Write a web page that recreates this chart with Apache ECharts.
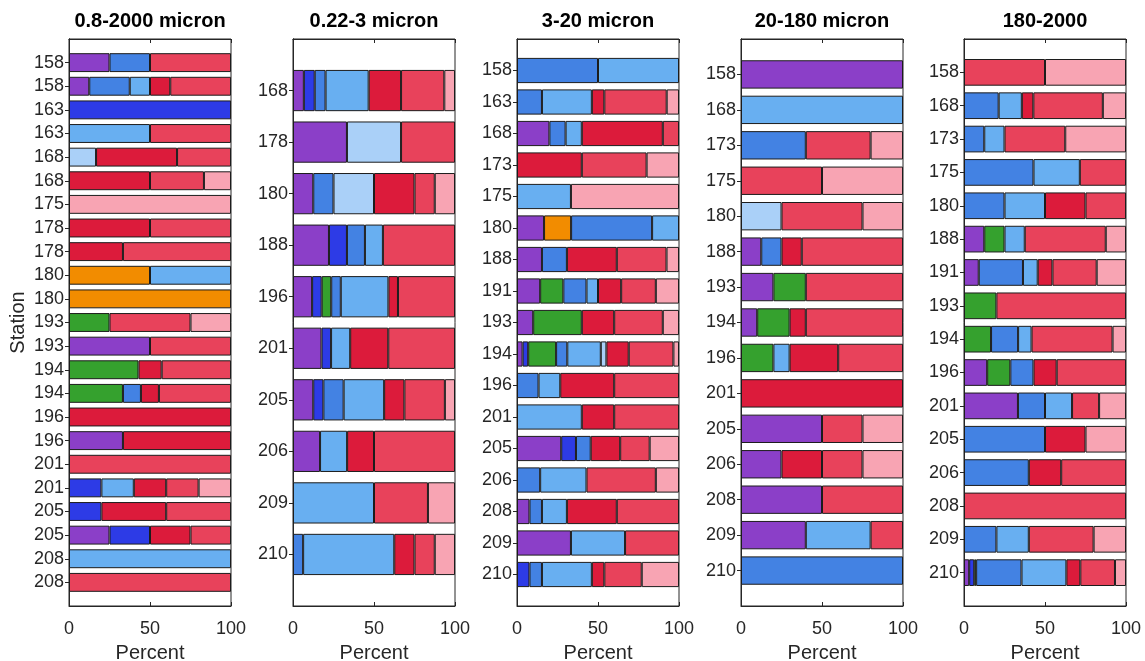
<!DOCTYPE html>
<html>
<head>
<meta charset="utf-8">
<script src="https://cdn.jsdelivr.net/npm/echarts@6/dist/echarts.min.js"></script>
<style>
  html, body { margin: 0; padding: 0; background: #ffffff; }
  #chart { width: 1145px; height: 661px; }
</style>
</head>
<body>
<div id="chart"></div>
<script>
// Stacked composition (percent) per station, five size fractions.
// Each row lists the share of every group in this order:
const groups = ['g1', 'g2', 'g3', 'g4', 'g5', 'g6', 'g7', 'g8', 'g9', 'g10'];
const groupColors = ['#8B3FC8', '#2D3BE6', '#35A12E', '#F28C00', '#4382E3',
                     '#68AFF1', '#AAD0F8', '#DC1B3B', '#E8425B', '#F8A4B3'];

const panelTitles = ['0.8-2000 micron', '0.22-3 micron', '3-20 micron', '20-180 micron', '180-2000'];

const stations1 = ['158','158','163','163','168','168','175','178','178','180','180','193',
                   '193','194','194','196','196','201','201','205','205','208','208'];
const values1 = [
  [25,0,0,0,25,0,0,0,50,0],
  [12.5,0,0,0,25,12.5,0,12.5,37.5,0],
  [0,100,0,0,0,0,0,0,0,0],
  [0,0,0,0,0,50,0,0,50,0],
  [0,0,0,0,0,0,16.7,50,33.3,0],
  [0,0,0,0,0,0,0,50,33.3,16.7],
  [0,0,0,0,0,0,0,0,0,100],
  [0,0,0,0,0,0,0,50,50,0],
  [0,0,0,0,0,0,0,33.3,66.7,0],
  [0,0,0,50,0,50,0,0,0,0],
  [0,0,0,100,0,0,0,0,0,0],
  [0,0,25,0,0,0,0,0,50,25],
  [50,0,0,0,0,0,0,0,50,0],
  [0,0,42.9,0,0,0,0,14.3,42.8,0],
  [0,0,33.3,0,11.1,0,0,11.1,44.5,0],
  [0,0,0,0,0,0,0,100,0,0],
  [33.3,0,0,0,0,0,0,66.7,0,0],
  [0,0,0,0,0,0,0,0,100,0],
  [0,20,0,0,0,20,0,20,20,20],
  [0,20,0,0,0,0,0,40,40,0],
  [25,25,0,0,0,0,0,25,25,0],
  [0,0,0,0,0,100,0,0,0,0],
  [0,0,0,0,0,0,0,0,100,0]
];

const stations2 = ['168','178','180','188','196','201','205','206','209','210'];
const values2 = [
  [6.7,6.7,0,0,6.7,26.6,0,20,26.7,6.6],
  [33.3,0,0,0,0,0,33.4,0,33.3,0],
  [12.5,0,0,0,12.5,0,25,25,12.5,12.5],
  [22.2,11.1,0,0,11.1,11.1,0,0,44.5,0],
  [11.8,5.9,5.9,0,5.9,29.4,0,5.9,35.2,0],
  [17.6,5.9,0,0,0,11.8,0,23.5,41.2,0],
  [12.5,6.25,0,0,12.5,25,0,12.5,25,6.25],
  [16.7,0,0,0,0,16.7,0,16.6,50,0],
  [0,0,0,0,0,50,0,0,33.3,16.7],
  [0,0,0,0,6.25,56.25,0,12.5,12.5,12.5]
];

const stations3 = ['158','163','168','173','175','180','188','191','193','194','196',
                   '201','205','206','208','209','210'];
const values3 = [
  [0,0,0,0,50,50,0,0,0,0],
  [0,0,0,0,15.4,30.8,0,7.7,38.5,7.6],
  [20,0,0,0,10,10,0,50,10,0],
  [0,0,0,0,0,0,0,40,40,20],
  [0,0,0,0,0,33.3,0,0,0,66.7],
  [16.7,0,0,16.7,50,16.6,0,0,0,0],
  [15.4,0,0,0,15.4,0,0,30.8,30.7,7.7],
  [14.3,0,14.3,0,14.3,7.1,0,14.3,21.4,14.3],
  [10,0,30,0,0,0,0,20,30,10],
  [3.45,3.45,17.24,0,6.9,20.69,3.45,13.79,27.58,3.45],
  [0,0,0,0,13.3,13.4,0,33.3,40,0],
  [0,0,0,0,0,40,0,20,40,0],
  [27.3,9.1,0,0,9.1,0,0,18.2,18.2,18.1],
  [0,0,0,0,14.3,28.6,0,0,42.8,14.3],
  [7.7,0,0,0,7.7,15.4,0,30.8,38.4,0],
  [33.3,0,0,0,0,33.4,0,0,33.3,0],
  [0,7.7,0,0,7.7,30.8,0,7.7,23.1,23]
];

const stations4 = ['158','168','173','175','180','188','193','194','196','201','205',
                   '206','208','209','210'];
const values4 = [
  [100,0,0,0,0,0,0,0,0,0],
  [0,0,0,0,0,100,0,0,0,0],
  [0,0,0,0,40,0,0,0,40,20],
  [0,0,0,0,0,0,0,0,50,50],
  [0,0,0,0,0,0,25,0,50,25],
  [12.5,0,0,0,12.5,0,0,12.5,62.5,0],
  [20,0,20,0,0,0,0,0,60,0],
  [10,0,20,0,0,0,0,10,60,0],
  [0,0,20,0,0,10,0,30,40,0],
  [0,0,0,0,0,0,0,100,0,0],
  [50,0,0,0,0,0,0,0,25,25],
  [25,0,0,0,0,0,0,25,25,25],
  [50,0,0,0,0,0,0,0,50,0],
  [40,0,0,0,0,40,0,0,20,0],
  [0,0,0,0,100,0,0,0,0,0]
];

const stations5 = ['158','168','173','175','180','188','191','193','194','196','201',
                   '205','206','208','209','210'];
const values5 = [
  [0,0,0,0,0,0,0,0,50,50],
  [0,0,0,0,21.4,14.3,0,7.1,42.9,14.3],
  [0,0,0,0,12.5,12.5,0,0,37.5,37.5],
  [0,0,0,0,42.9,28.6,0,0,28.5,0],
  [0,0,0,0,25,25,0,25,25,0],
  [12.5,0,12.5,0,0,12.5,0,0,50,12.5],
  [9.1,0,0,0,27.3,9.1,0,9.1,27.3,18.1],
  [0,0,20,0,0,0,0,0,80,0],
  [0,0,16.7,0,16.7,8.3,0,0,50,8.3],
  [14.3,0,14.3,0,14.3,0,0,14.3,42.8,0],
  [33.3,0,0,0,16.7,16.7,0,0,16.7,16.6],
  [0,0,0,0,50,0,0,25,0,25],
  [0,0,0,0,40,0,0,20,40,0],
  [0,0,0,0,0,0,0,0,100,0],
  [0,0,0,0,20,20,0,0,40,20],
  [3.2,3.1,1.2,0,28,27.7,0,8.6,21.4,6.8]
];

const xTicks = [0, 50, 100];

const panels = [
  { stations: stations1, values: values1 },
  { stations: stations2, values: values2 },
  { stations: stations3, values: values3 },
  { stations: stations4, values: values4 },
  { stations: stations5, values: values5 }
];

// Layout of the five axes boxes (pixels)
const boxLefts = [69, 293, 517, 741, 964];
const boxWidth = 162;
const boxTop = 39;
const boxHeight = 567;

const FONT = '"Liberation Sans", Arial, Helvetica, sans-serif';
const INK = '#262626';

const grid = [], xAxis = [], yAxis = [], series = [], title = [];

panels.forEach((p, i) => {
  const n = p.stations.length;
  // one blank slot above and below, like limits of [0, n+1]
  const cats = ['0:'].concat(p.stations.map((s, k) => (k + 1) + ':' + s), [(n + 1) + ':']);
  const m = cats.length;

  grid.push({
    left: boxLefts[i], top: boxTop, width: boxWidth, height: boxHeight,
    containLabel: false, outerBoundsMode: 'none',
    show: true, borderColor: INK, borderWidth: 1, backgroundColor: '#ffffff'
  });

  title.push({
    text: panelTitles[i],
    left: boxLefts[i] + boxWidth / 2,
    top: 11,
    padding: 0,
    textAlign: 'center',
    textStyle: { fontFamily: FONT, fontSize: 20, fontWeight: 'bold', color: '#000000' }
  });

  // bottom value axis
  xAxis.push({
    type: 'value', gridIndex: i, position: 'bottom',
    min: xTicks[0], max: xTicks[xTicks.length - 1], interval: xTicks[1] - xTicks[0],
    name: 'Percent', nameLocation: 'middle', nameGap: 37,
    nameTextStyle: { fontFamily: FONT, fontSize: 20, color: INK },
    axisLine: { show: true, lineStyle: { color: INK, width: 1 } },
    axisTick: { show: true, inside: true, length: 4, lineStyle: { color: INK } },
    axisLabel: { fontFamily: FONT, fontSize: 18, color: INK, margin: 14 },
    splitLine: { show: false }
  });
  // top mirror axis: ticks only
  xAxis.push({
    type: 'value', gridIndex: i, position: 'top',
    min: xTicks[0], max: xTicks[xTicks.length - 1], interval: xTicks[1] - xTicks[0],
    axisLine: { show: true, lineStyle: { color: INK, width: 1 } },
    axisTick: { show: true, inside: true, length: 4, lineStyle: { color: INK } },
    axisLabel: { show: false },
    splitLine: { show: false }
  });

  const tickInterval = (idx) => idx > 0 && idx < m - 1;
  yAxis.push({
    type: 'category', gridIndex: i, position: 'left', inverse: true,
    boundaryGap: false, data: cats,
    name: i === 0 ? 'Station' : '', nameLocation: 'middle', nameGap: 41,
    nameTextStyle: { fontFamily: FONT, fontSize: 20, color: INK },
    axisLine: { show: true, lineStyle: { color: INK, width: 1 } },
    axisTick: { show: true, inside: true, length: 4, interval: tickInterval, lineStyle: { color: INK } },
    axisLabel: {
      interval: 0, fontFamily: FONT, fontSize: 18, color: INK, margin: 5,
      formatter: (v) => v.split(':')[1]
    },
    splitLine: { show: false }
  });
  yAxis.push({
    type: 'category', gridIndex: i, position: 'right', inverse: true,
    boundaryGap: false, data: cats,
    axisLine: { show: true, lineStyle: { color: INK, width: 1 } },
    axisTick: { show: true, inside: true, length: 4, interval: tickInterval, lineStyle: { color: INK } },
    axisLabel: { show: false },
    splitLine: { show: false }
  });

  groups.forEach((g, gi) => {
    const data = [null].concat(p.values.map(row => (row[gi] > 0 ? row[gi] : '-')), [null]);
    series.push({
      type: 'bar',
      name: g,
      xAxisIndex: 2 * i,
      yAxisIndex: 2 * i,
      stack: 'panel' + i,
      barWidth: '80%',
      data: data,
      itemStyle: { color: groupColors[gi], borderColor: '#1c1c1c', borderWidth: 1 },
      emphasis: { disabled: true },
      silent: true,
      animation: false
    });
  });
});

const chart = echarts.init(document.getElementById('chart'), null, { renderer: 'canvas' });
chart.setOption({
  backgroundColor: '#ffffff',
  animation: false,
  title: title,
  grid: grid,
  xAxis: xAxis,
  yAxis: yAxis,
  series: series
});
</script>
</body>
</html>
